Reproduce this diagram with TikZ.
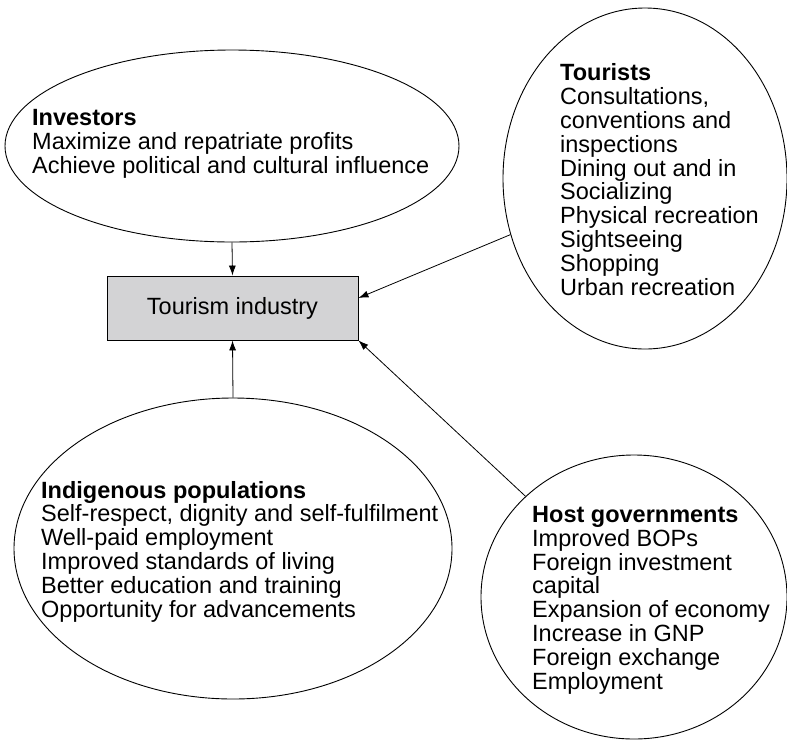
\documentclass[tikz,border=0pt]{standalone}
\usepackage{fontspec}
\setmainfont{Liberation Sans}
\usetikzlibrary{shapes.geometric,arrows.meta,calc}
\definecolor{boxgray}{RGB}{211,211,213}
\begin{document}
\begin{tikzpicture}[x=1pt,y=-1pt,
  blob/.style={draw,ellipse,inner sep=0pt,line width=0.9pt},
  lbl/.style={anchor=base west,align=left,inner sep=0pt,font=\fontsize{23.5}{23.8}\selectfont},
  conn/.style={line width=0.8pt,-{Latex[length=10pt,width=7pt]}}]
\useasboundingbox (0,0) rectangle (787,740);
\node[blob,minimum width=454pt,minimum height=192pt] (inv) at (232,146) {};
\node[blob,minimum width=284pt,minimum height=341pt] (tour) at (645,178.5) {};
\node[blob,minimum width=438pt,minimum height=301pt] (ind) at (233,548.5) {};
\node[blob,minimum width=306pt,minimum height=284pt] (host) at (634,597) {};
\node[draw,fill=boxgray,line width=0.9pt,minimum width=251pt,minimum height=64pt,inner sep=0pt,font=\fontsize{23.5}{23.8}\selectfont] (box) at (232.5,308) {Tourism industry};
\node[lbl] (invt) at (32,173) {\textbf{Investors}\\Maximize and repatriate profits\\Achieve political and cultural influence};
\node[lbl] (tourt) at (560,295) {\textbf{Tourists}\\Consultations,\\conventions and\\inspections\\Dining out and in\\Socializing\\Physical recreation\\Sightseeing\\Shopping\\Urban recreation};
\node[lbl] (indt) at (41,617) {\textbf{Indigenous populations}\\Self-respect, dignity and self-fulfilment\\Well-paid employment\\Improved standards of living\\Better education and training\\Opportunity for advancements};
\node[lbl] (hostt) at (532,689) {\textbf{Host governments}\\Improved BOPs\\Foreign investment\\capital\\Expansion of economy\\Increase in GNP\\Foreign exchange\\Employment};
\coordinate (boxe) at ($(box.east)+(0,-10)$);
\draw[conn] (inv.south) -- (box.north);
\draw[conn] (tour) -- (boxe);
\draw[conn] (ind.north) -- (box.south);
\draw[conn] (host.north west) -- (box.south east);
\end{tikzpicture}
\end{document}
